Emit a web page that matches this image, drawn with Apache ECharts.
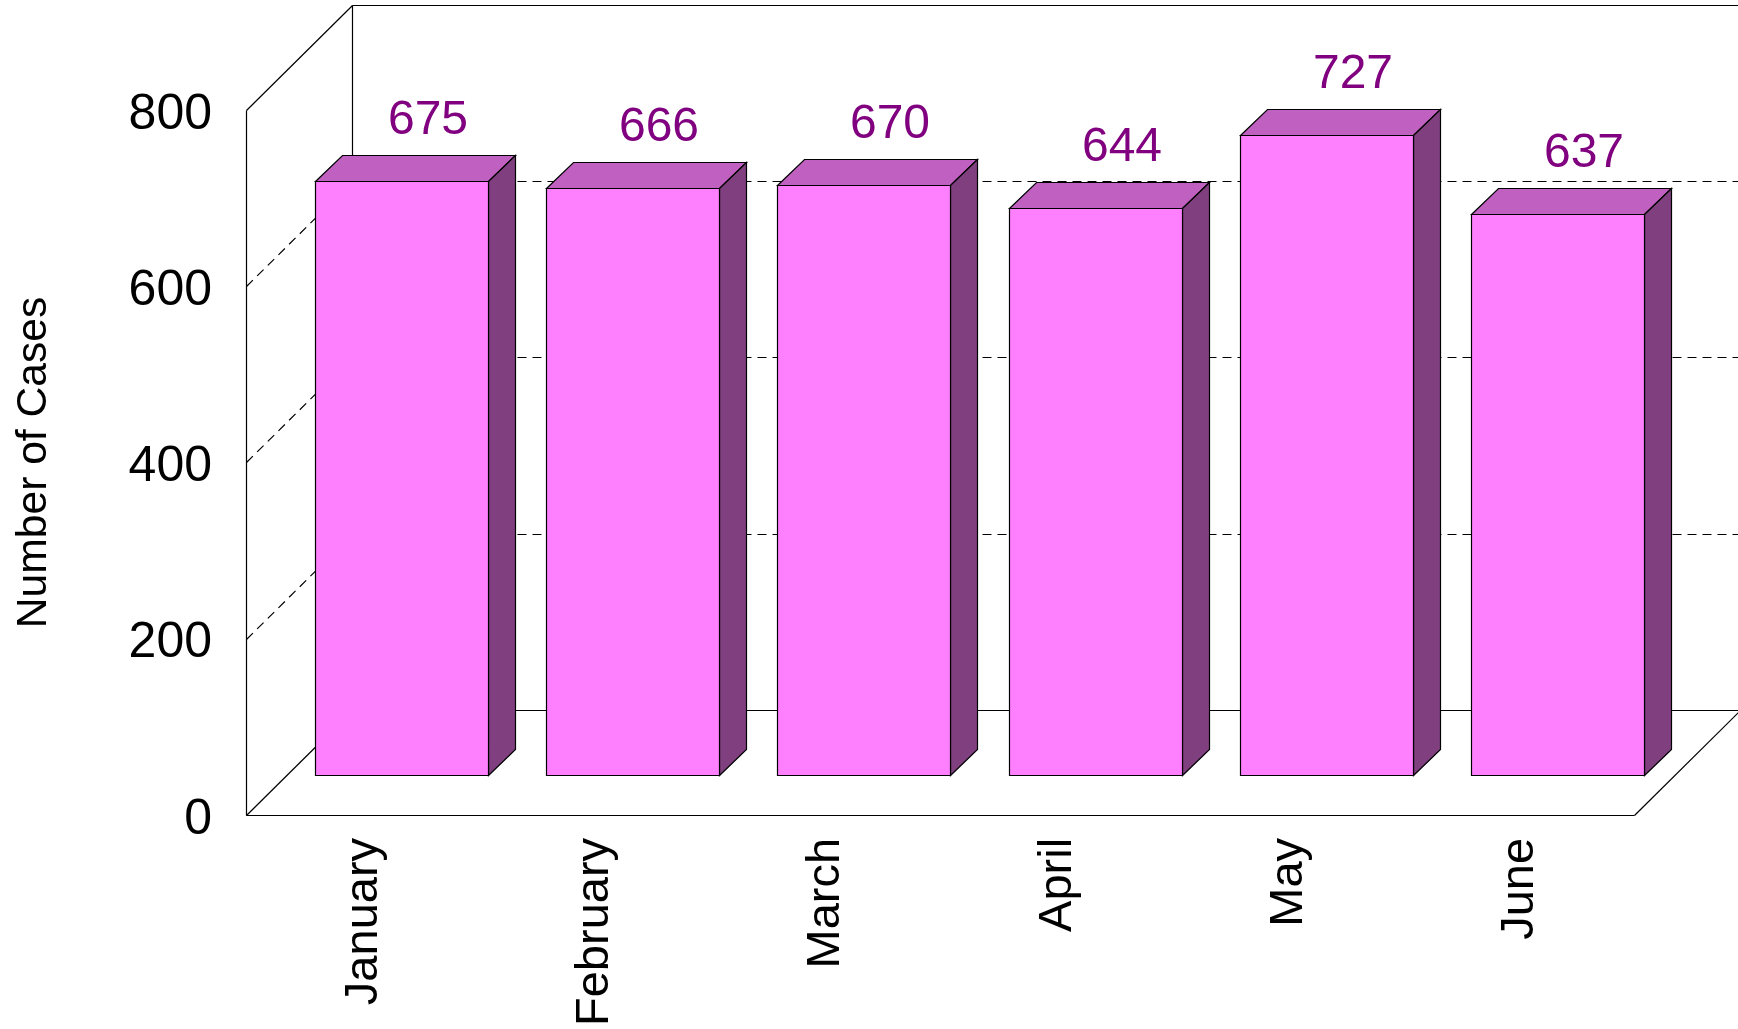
<!DOCTYPE html>
<html><head><meta charset="utf-8">
<style>html,body{margin:0;padding:0;background:#fff}#c{width:1738px;height:1029px}</style>
<script src="https://cdn.jsdelivr.net/npm/echarts@6/dist/echarts.min.js"></script>
</head><body><div id="c"></div>
<script>
const categories = ['January','February','March','April','May','June'];
const cases = [675,666,670,644,727,637];
const yTicks = [200,400,600];
const FONT = '"Liberation Sans", Arial, sans-serif';
const WALL_DX = 106, WALL_DY = 105;
const BAR_OFF = 39.6, BAR_DEPTH_X = 27, BAR_DEPTH_Y = 26;
const BAR_RATIO = 0.7478;
const chart = echarts.init(document.getElementById('c'), null, {renderer:'canvas'});
const lineStyle = {stroke:'#000', lineWidth:1.2, fill:null};
const dash = {stroke:'#000', lineWidth:1.2, lineDash:[9,6], fill:null};
const px = v => Math.round(v)+0.5;
function seg(x1,y1,x2,y2,style){return {type:'line',shape:{x1:px(x1),y1:px(y1),x2:px(x2),y2:px(y2)},style};}
function renderWall(params, api){
  const v = api.value(0);
  const p = api.coord([0, v]);
  const left = params.coordSys.x, right = left + params.coordSys.width;
  const bx = left + WALL_DX, y = p[1];
  return {type:'group',silent:true,children:[
    seg(left,y,bx,y-WALL_DY,dash),
    seg(bx,y-WALL_DY,right+WALL_DX,y-WALL_DY,dash)
  ]};
}
function renderFrame(params, api){
  const cs = params.coordSys;
  const l = cs.x, r = cs.x+cs.width, t = cs.y, b = cs.y+cs.height;
  const s = lineStyle;
  return {type:'group',silent:true,children:[
    seg(l,t,l+WALL_DX,t-WALL_DY,s),
    seg(l+WALL_DX,t-WALL_DY,r+WALL_DX,t-WALL_DY,s),
    seg(l+WALL_DX,t-WALL_DY,l+WALL_DX,b-WALL_DY,s),
    seg(l+WALL_DX,b-WALL_DY,r+WALL_DX,b-WALL_DY,s),
    seg(l,b,l+WALL_DX,b-WALL_DY,s),
    seg(r,b,r+WALL_DX,b-WALL_DY,s),
    seg(l,t,l,b,s),
    seg(l,b,r,b,s)
  ]};
}
function renderBar(params, api){
  const i = api.value(0), v = api.value(1);
  const band = api.size([1,0])[0];
  const c0 = api.coord([i,0]), c1 = api.coord([i,v]);
  const w = Math.round(band*BAR_RATIO);
  const x0 = px(c0[0]-band/2+BAR_OFF+(band-w)/2), x1 = x0+w;
  const yb = px(c0[1]-BAR_OFF), yt = px(c1[1]-BAR_OFF);
  const dx = BAR_DEPTH_X, dy = BAR_DEPTH_Y;
  const edge = {stroke:'#000', lineWidth:1.2, lineJoin:'miter'};
  return {type:'group',silent:true,children:[
    {type:'polygon',shape:{points:[[x0,yt],[x1,yt],[x1+dx,yt-dy],[x0+dx,yt-dy]]},style:Object.assign({fill:'#C060C0'},edge)},
    {type:'polygon',shape:{points:[[x1,yt],[x1+dx,yt-dy],[x1+dx,yb-dy],[x1,yb]]},style:Object.assign({fill:'#804080'},edge)},
    {type:'polygon',shape:{points:[[x0,yt],[x1,yt],[x1,yb],[x0,yb]]},style:Object.assign({fill:'#FF80FF'},edge)},
    {type:'text',style:{text:String(v),x:(x0+x1)/2+dx-1,y:yt-dy-11,align:'center',verticalAlign:'bottom',fill:'#800080',font:'48px '+FONT}}
  ]};
}
chart.setOption({
  animation:false,
  backgroundColor:'#fff',
  grid:{left:246,top:110,width:1388,height:705,containLabel:false},
  xAxis:{type:'category',data:categories,
    axisLine:{show:false},axisTick:{show:false},
    axisLabel:{rotate:90,margin:23,fontSize:47,fontFamily:FONT,color:'#000',interval:0,verticalAlign:'top',lineHeight:4}},
  yAxis:{type:'value',min:0,max:800,interval:200,
    name:'Number of Cases',nameLocation:'middle',nameGap:190,nameRotate:90,
    nameTextStyle:{fontSize:42.6,fontFamily:FONT,color:'#000'},
    axisLine:{show:false},axisTick:{show:false},splitLine:{show:false},
    axisLabel:{margin:34,fontSize:50,fontFamily:FONT,color:'#000',verticalAlign:'top',lineHeight:10}},
  series:[
    {type:'custom',coordinateSystem:'cartesian2d',clip:false,z:1,data:yTicks.map(v=>[v]),encode:{y:0},renderItem:renderWall},
    {type:'custom',coordinateSystem:'cartesian2d',clip:false,z:2,data:[[0]],encode:{y:0},renderItem:renderFrame},
    {type:'custom',coordinateSystem:'cartesian2d',clip:false,z:3,data:cases.map((v,i)=>[i,v]),encode:{x:0,y:1},renderItem:renderBar}
  ]
});
</script></body></html>
